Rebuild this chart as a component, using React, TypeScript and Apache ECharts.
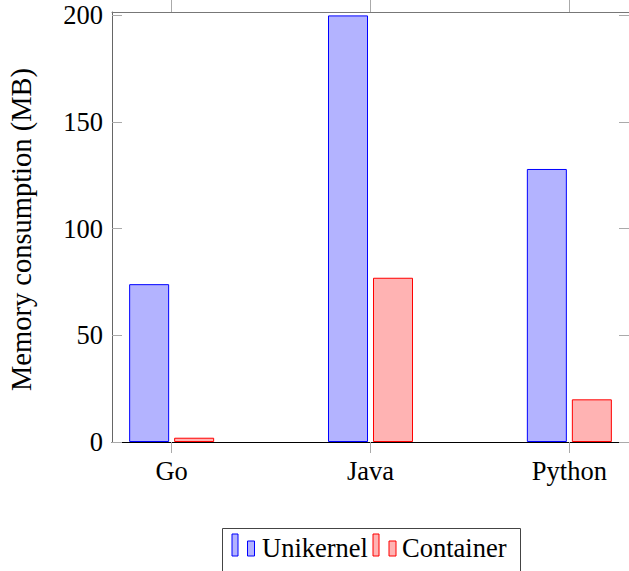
import React, { useEffect, useRef } from "react";
import * as echarts from "echarts";

const categories = ["Go", "Java", "Python"];
const unikernel = [74, 200, 128];
const container = [2, 77, 20];
const yTicks = [0, 50, 100, 150, 200];
const seriesNames = ["Unikernel", "Container"];

const FONT = "Liberation Serif, Times New Roman, serif";

export default function App() {
  const ref = useRef<HTMLDivElement>(null);
  useEffect(() => {
    if (!ref.current) return;
    const chart = echarts.init(ref.current, undefined, { renderer: "svg" });
    const catIdx = categories.map((_, i) => i);
    const uniFill = "#b3b3ff";
    const uniStroke = "#0000ff";
    const conFill = "#ffb3b3";
    const conStroke = "#ff0000";
    const option: any = {
      animation: false,
      textStyle: { fontFamily: FONT },
      grid: { left: 112, top: 12, width: 519, height: 430, containLabel: false },
      xAxis: [
        {
          type: "value",
          position: "bottom",
          min: -0.3,
          max: 2.3,
          splitLine: { show: false },
          axisLine: { show: true, onZero: false, lineStyle: { color: "#000", width: 1 } },
          axisTick: {
            show: true,
            inside: false,
            length: 11,
            customValues: catIdx,
            lineStyle: { color: "#aaa", width: 1 },
          },
          axisLabel: {
            show: true,
            customValues: catIdx,
            formatter: (v: number) => categories[Math.round(v)] ?? "",
            margin: 15,
            fontFamily: FONT,
            fontSize: 26.5,
            color: "#000",
          },
        },
        {
          type: "value",
          position: "top",
          min: -0.3,
          max: 2.3,
          splitLine: { show: false },
          axisLine: { show: true, onZero: false, lineStyle: { color: "#777", width: 1 } },
          axisTick: {
            show: true,
            inside: false,
            length: 12,
            customValues: catIdx,
            lineStyle: { color: "#aaa", width: 1 },
          },
          axisLabel: { show: false },
        },
      ],
      yAxis: [
        {
          type: "value",
          position: "left",
          min: 0,
          max: 201.6,
          splitLine: { show: false },
          axisLine: { show: true, onZero: false, lineStyle: { color: "#666", width: 1 } },
          axisTick: {
            show: true,
            inside: true,
            length: 10,
            customValues: yTicks,
            lineStyle: { color: "#aaa", width: 1 },
          },
          axisLabel: {
            show: true,
            customValues: yTicks,
            margin: 9,
            fontFamily: FONT,
            fontSize: 26.5,
            color: "#000",
          },
        },
        {
          type: "value",
          position: "right",
          min: 0,
          max: 201.6,
          splitLine: { show: false },
          axisLine: { show: true, onZero: false, lineStyle: { color: "#666", width: 1 } },
          axisTick: {
            show: true,
            inside: true,
            length: 10,
            customValues: yTicks,
            lineStyle: { color: "#aaa", width: 1 },
          },
          axisLabel: { show: false },
        },
      ],
      series: [
        {
          name: seriesNames[0],
          type: "bar",
          xAxisIndex: 0,
          yAxisIndex: 0,
          barWidth: 40,
          barGap: "12.5%",
          data: unikernel.map((v, i) => [i, v]),
          itemStyle: { color: uniFill, borderColor: uniStroke, borderWidth: 1 },
        },
        {
          name: seriesNames[1],
          type: "bar",
          xAxisIndex: 0,
          yAxisIndex: 0,
          barWidth: 40,
          barGap: "12.5%",
          data: container.map((v, i) => [i, v]),
          itemStyle: { color: conFill, borderColor: conStroke, borderWidth: 1 },
        },
      ],
      graphic: [
        {
          type: "text",
          x: 21,
          y: 229.5,
          rotation: Math.PI / 2,
          style: {
            text: "Memory consumption (MB)",
            fontFamily: FONT,
            fontSize: 28.5,
            fill: "#000",
            align: "center",
            verticalAlign: "middle",
          },
        },
        {
          type: "rect",
          shape: { x: 222.5, y: 528.5, width: 298, height: 60 },
          style: { fill: "#fff", stroke: "#444", lineWidth: 1 },
        },
        { type: "rect", shape: { x: 232, y: 534, width: 6, height: 22 }, style: { fill: uniFill, stroke: uniStroke, lineWidth: 1 } },
        { type: "rect", shape: { x: 247.5, y: 541, width: 7, height: 15 }, style: { fill: uniFill, stroke: uniStroke, lineWidth: 1 } },
        {
          type: "text",
          x: 262,
          y: 548,
          style: { text: seriesNames[0], fontFamily: FONT, fontSize: 26.5, fill: "#000", align: "left", verticalAlign: "middle" },
        },
        { type: "rect", shape: { x: 373, y: 534, width: 6, height: 22 }, style: { fill: conFill, stroke: conStroke, lineWidth: 1 } },
        { type: "rect", shape: { x: 389, y: 541, width: 7, height: 15 }, style: { fill: conFill, stroke: conStroke, lineWidth: 1 } },
        {
          type: "text",
          x: 402,
          y: 548,
          style: { text: seriesNames[1], fontFamily: FONT, fontSize: 26.5, fill: "#000", align: "left", verticalAlign: "middle" },
        },
      ],
    };
    chart.setOption(option);
    return () => chart.dispose();
  }, []);
  return (
    <div
      ref={ref}
      style={{ position: "fixed", left: 0, top: 0, width: 629, height: 571, background: "#fff" }}
    />
  );
}
